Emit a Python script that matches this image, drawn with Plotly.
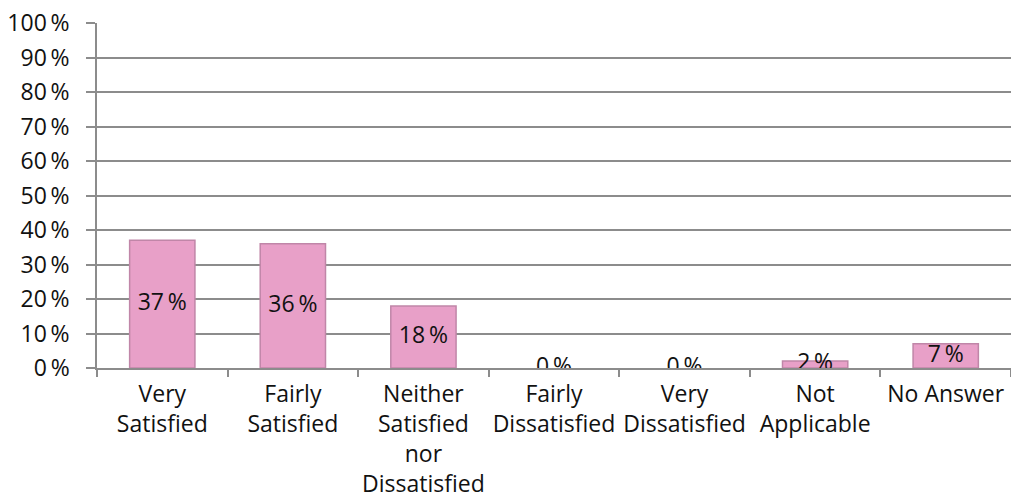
import plotly.graph_objects as go

categories = ["Very<br>Satisfied", "Fairly<br>Satisfied", "Neither<br>Satisfied<br>nor<br>Dissatisfied",
              "Fairly<br>Dissatisfied", "Very<br>Dissatisfied", "Not<br>Applicable", "No Answer"]
values = [37, 36, 18, 0, 0, 2, 7]
y_ticks = [0, 10, 20, 30, 40, 50, 60, 70, 80, 90, 100]
y_tick_labels = [f"{v}\u2009%" for v in y_ticks]
value_labels = [f"{v}\u2009%" for v in values]

FONT = "Open Sans"
GRID = "#8c8c8c"
FS = 23

fig = go.Figure()
fig.add_trace(go.Bar(
    x=categories, y=values, width=0.5,
    marker=dict(color="#e8a0c8",
                line=dict(color="#c086a8", width=[1.5 if v > 0 else 0 for v in values])),
    hoverinfo="skip",
))
fig.add_trace(go.Scatter(
    x=categories, y=[v / 2 for v in values], mode="text",
    text=value_labels, textposition="middle center",
    textfont=dict(family=FONT, size=FS, color="#111111"),
    hoverinfo="skip",
))

fig.update_layout(
    width=1011, height=495,
    margin=dict(l=97, r=0, t=23, b=127),
    plot_bgcolor="white", paper_bgcolor="white",
    showlegend=False,
    bargap=0.5,
    font=dict(family=FONT, size=FS, color="#111111"),
)
fig.update_xaxes(
    automargin=False, tickangle=0,
    showline=True, linecolor=GRID, linewidth=1.5,
    ticks="outside", tickson="boundaries", ticklen=7, tickcolor=GRID, tickwidth=1.5,
    showgrid=False, tickfont=dict(family=FONT, size=FS, color="#111111"),
    ticklabelstandoff=5,
)
fig.update_yaxes(
    automargin=False,
    range=[0, 100], tickvals=y_ticks, ticktext=y_tick_labels,
    showline=True, linecolor=GRID, linewidth=1.5,
    ticks="outside", ticklen=9, tickcolor=GRID, tickwidth=1.5,
    showgrid=True, gridcolor=GRID, gridwidth=1.5,
    zeroline=False,
    tickfont=dict(family=FONT, size=FS, color="#111111"),
    ticklabelstandoff=12,
)

fig.write_html("out.html", config={"displayModeBar": False})
with open("out.html", "r", encoding="utf-8") as f:
    html = f.read()
html = html.replace("<head>", "<head><style>html,body{margin:0;padding:0;overflow:hidden;}</style>", 1)
with open("out.html", "w", encoding="utf-8") as f:
    f.write(html)
